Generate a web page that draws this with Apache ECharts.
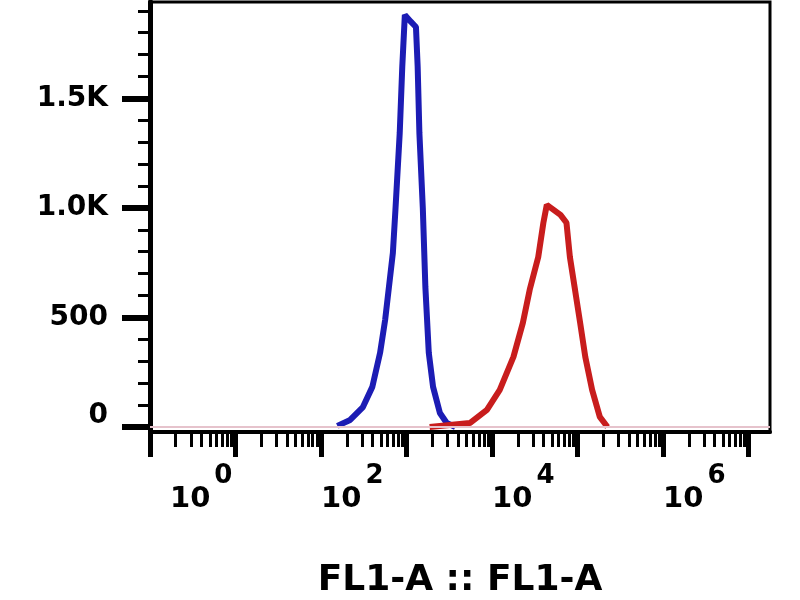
<!DOCTYPE html>
<html>
<head>
<meta charset="utf-8">
<script src="https://cdn.jsdelivr.net/npm/echarts@6/dist/echarts.min.js"></script>
<style>html,body{margin:0;padding:0;background:#fff}#c{width:800px;height:600px}</style>
</head>
<body>
<div id="c"></div>
<script>
// Fluorescence intensity (FL1-A) and event counts
const blueX = [155, 219, 309, 398, 490, 562, 692, 741, 832, 891, 955, 1122, 1288, 1349, 1413, 1549, 1660, 1820, 2042, 2455, 2951, 3715];
const blueY = [5, 32, 91, 183, 338, 489, 795, 990, 1342, 1644, 1881, 1850, 1826, 1644, 1342, 1000, 639, 338, 183, 64, 18, 0];
const redX = [1862, 5495, 8710, 12303, 17783, 22909, 27542, 34674, 39811, 43652, 63096, 74131, 81283, 93325, 107152, 123027, 147911, 181970, 223872];
const redY = [0, 18, 78, 169, 320, 475, 626, 776, 932, 1014, 968, 932, 776, 626, 475, 320, 169, 46, 0];

const xMajorTicks = [1, 10, 100, 1000, 10000, 100000, 1000000, 10000000];
const xLabelTicks = [1, 100, 10000, 1000000];
const xMinorTicks = [];
for (let k = 0; k < 7; k++) for (let m = 2; m <= 9; m++) xMinorTicks.push(m * Math.pow(10, k));
const yMajorTicks = [0, 500, 1000, 1500];
const yMinorTicks = [100, 200, 300, 400, 600, 700, 800, 900, 1100, 1200, 1300, 1400, 1600, 1700, 1800, 1900];
const xTitle = 'FL1-A :: FL1-A';

const FONT = 'DejaVu Sans';
const xMin = 1, xMax = Math.pow(10, 7.25);
const yMin = -23, yMax = 1940;

const chart = echarts.init(document.getElementById('c'), null, {renderer: 'canvas'});
const pair = (xs, ys) => xs.map((x, i) => [x, ys[i]]);

chart.setOption({
  backgroundColor: '#fff',
  animation: false,
  grid: {left: 150, right: 30, top: 2, bottom: 168, containLabel: false, outerBoundsMode: 'none',
    show: true, borderColor: '#000', borderWidth: 3, backgroundColor: 'transparent'},
  xAxis: [{
    type: 'log', logBase: 10, min: xMin, max: xMax, position: 'bottom',
    axisLine: {show: true, onZero: false, lineStyle: {color: '#000', width: 4}},
    axisTick: {show: true, inside: false, length: 25, customValues: xMajorTicks, lineStyle: {color: '#000', width: 5}},
    axisLabel: {
      show: true, customValues: xLabelTicks, align: 'left', margin: 31,
      formatter: function (v) {
        const e = Math.round(Math.log10(v));
        return (e === 0 ? '{b0|10}' : '{b|10}') + '{s|' + e + '}';
      },
      rich: {
        b: {fontFamily: FONT, fontWeight: 'bold', fontSize: 29, color: '#000'},
        b0: {fontFamily: FONT, fontWeight: 'bold', fontSize: 29, color: '#000', padding: [0, 0, 0, 20]},
        s: {fontFamily: FONT, fontWeight: 'bold', fontSize: 26, color: '#000', padding: [0, 0, 46, 4]}
      }
    },
    splitLine: {show: false},
    name: xTitle, nameLocation: 'middle', nameGap: 131,
    nameTextStyle: {fontFamily: FONT, fontWeight: 'bold', fontSize: 36, color: '#000'}
  }, {
    type: 'log', logBase: 10, min: xMin, max: xMax, position: 'bottom',
    axisLine: {show: false, onZero: false},
    axisTick: {show: true, inside: false, length: 15, customValues: xMinorTicks, lineStyle: {color: '#000', width: 3}},
    axisLabel: {show: false},
    splitLine: {show: false}
  }],
  yAxis: [{
    type: 'value', min: yMin, max: yMax, position: 'left',
    axisLine: {show: true, onZero: false, lineStyle: {color: '#000', width: 5}},
    axisTick: {show: true, inside: false, length: 28, customValues: yMajorTicks, lineStyle: {color: '#000', width: 6}},
    axisLabel: {
      show: true, customValues: yMajorTicks, margin: 42,
      fontFamily: FONT, fontWeight: 'bold', fontSize: 28, color: '#000',
      formatter: function (v) {
        if (v === 0) return '{z|0}';
        return v >= 1000 ? (v / 1000).toFixed(1) + 'K' : String(v);
      },
      rich: {z: {fontFamily: FONT, fontWeight: 'bold', fontSize: 28, color: '#000', padding: [0, 0, 22, 0]}}
    },
    splitLine: {show: false}
  }, {
    type: 'value', min: yMin, max: yMax, position: 'left',
    axisLine: {show: false, onZero: false},
    axisTick: {show: true, inside: false, length: 12, customValues: yMinorTicks, lineStyle: {color: '#000', width: 3}},
    axisLabel: {show: false},
    splitLine: {show: false}
  }],
  series: [{
    name: 'blue', type: 'line', xAxisIndex: 0, yAxisIndex: 0,
    data: pair(blueX, blueY), showSymbol: false, smooth: false,
    lineStyle: {color: '#1c1cb4', width: 6}, z: 3,
    markLine: {silent: true, symbol: 'none', label: {show: false},
      lineStyle: {color: '#e6c3cc', width: 2, type: 'solid'}, data: [{yAxis: 0}]}
  }, {
    name: 'red', type: 'line', xAxisIndex: 0, yAxisIndex: 0,
    data: pair(redX, redY), showSymbol: false, smooth: false,
    lineStyle: {color: '#c81d1d', width: 6}, z: 4
  }]
});
</script>
</body>
</html>
